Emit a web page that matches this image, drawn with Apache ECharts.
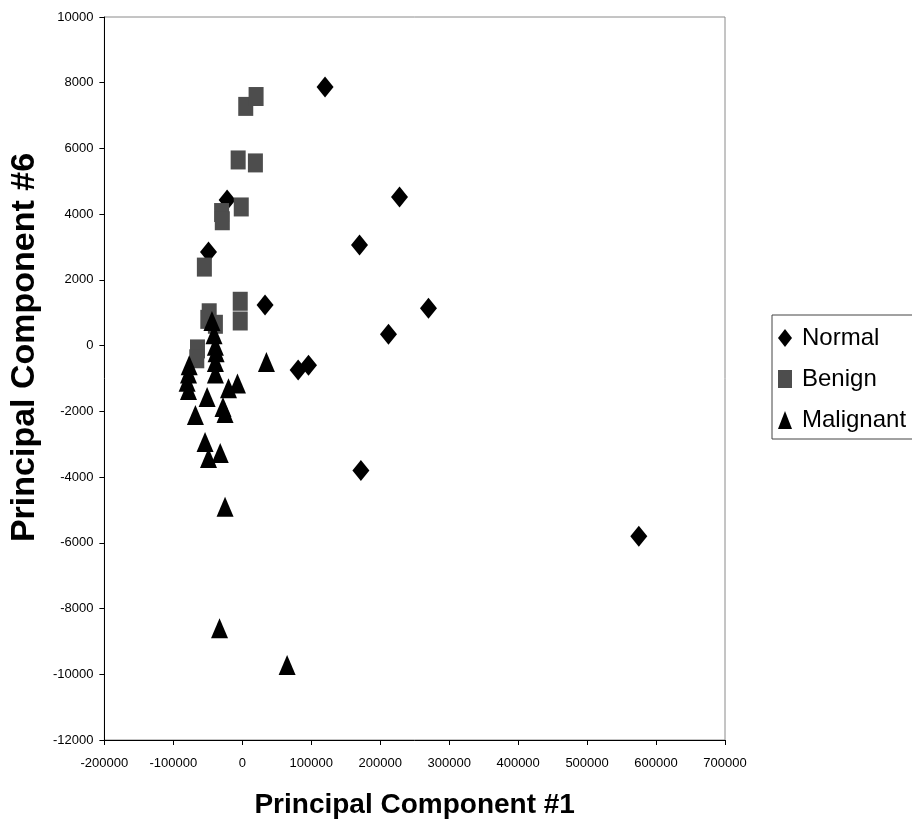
<!DOCTYPE html>
<html>
<head>
<meta charset="utf-8">
<script src="https://cdn.jsdelivr.net/npm/echarts@6/dist/echarts.min.js"></script>
<style>
html, body { margin: 0; padding: 0; background: #fff; }
#chart { width: 912px; height: 825px; }
</style>
</head>
<body>
<div id="chart"></div>
<script>
// 각 그룹 데이터 [PC1, PC6]
var normalPts = [
	[120000, 7870], [228000, 4520], [170000, 3060], [-22000, 4430],
	[-49000, 2850], [33000, 1240], [270000, 1140], [212000, 350],
	[81000, -740], [96000, -600], [172000, -3800], [575000, -5800]
];
var benignPts = [
	[5000, 7280], [20000, 7580], [-6000, 5650], [19000, 5560],
	[-30000, 4050], [-29000, 3800], [-1500, 4220], [-55000, 2390],
	[-48000, 1000], [-50000, 800], [-3000, 1350], [-3000, 750],
	[-39000, 650], [-65000, -100], [-66000, -400]
];
var malignantPts = [
	[-44000, 750], [-41000, 350], [-39000, 0], [-38000, -200],
	[-39000, -500], [-39000, -850], [-77000, -600], [-78000, -850],
	[-80000, -1100], [-78000, -1350], [-51000, -1560], [-20000, -1300],
	[-7000, -1150], [-28000, -1870], [-25000, -2050], [-68000, -2110],
	[-54000, -2930], [-49000, -3420], [-32000, -3270], [-25000, -4900],
	[-33000, -8600], [65000, -9720], [35000, -500]
];
var seriesNames = ['Normal', 'Benign', 'Malignant'];
var xName = 'Principal Component #1';
var yName = 'Principal Component #6';

var myChart = echarts.init(document.getElementById('chart'));

var font = 'Liberation Sans, Arial, sans-serif';

// 천 단위 쉼표 없이 표시
function plainNum(v){
	return String(v);
}

var option = {
	animation: false,
	grid: {
		left: 104, right: 187, top: 17, bottom: 85,
		show: true, borderColor: '#8a8a8a', borderWidth: 1
	},
	legend: {
		orient: 'vertical',
		left: 772, top: 315,
		data: seriesNames,
		itemWidth: 14, itemHeight: 18, itemGap: 17,
		padding: [11, 12, 7, 6],
		borderColor: '#444', borderWidth: 1,
		textStyle: { fontFamily: font, fontSize: 24, lineHeight: 24, color: '#000', padding: [0, 0, 0, 5] }
	},
	xAxis: {
		type: 'value', min: -200000, max: 700000, interval: 100000,
		name: xName, nameLocation: 'middle', nameGap: 51,
		nameTextStyle: { fontFamily: font, fontSize: 28, fontWeight: 'bold', color: '#000' },
		axisLine: { onZero: false, lineStyle: { color: '#000', width: 1 } },
		axisTick: { length: 5, lineStyle: { color: '#000' } },
		axisLabel: { fontFamily: font, fontSize: 13, color: '#000', margin: 17, formatter: plainNum },
		splitLine: { show: false }
	},
	yAxis: {
		type: 'value', min: -12000, max: 10000, interval: 2000,
		name: yName, nameLocation: 'middle', nameGap: 60, nameRotate: 90,
		nameTextStyle: { fontFamily: font, fontSize: 34, fontWeight: 'bold', color: '#000', padding: [0, 0, 0, 62] },
		axisLine: { onZero: false, lineStyle: { color: '#000', width: 1 } },
		axisTick: { length: 5, lineStyle: { color: '#000' } },
		axisLabel: { fontFamily: font, fontSize: 13, color: '#000', margin: 11, formatter: plainNum },
		splitLine: { show: false }
	},
	series: [
		{
			name: seriesNames[0], type: 'scatter', symbol: 'diamond', symbolSize: [17, 21],
			itemStyle: { color: '#000', opacity: 1 }, data: normalPts
		},
		{
			name: seriesNames[1], type: 'scatter', symbol: 'rect', symbolSize: [15, 19],
			itemStyle: { color: '#4d4d4d', opacity: 1 }, data: benignPts
		},
		{
			name: seriesNames[2], type: 'scatter', symbol: 'triangle', symbolSize: [17, 20],
			itemStyle: { color: '#000', opacity: 1 }, data: malignantPts
		}
	]
};
myChart.setOption(option);
</script>
</body>
</html>
